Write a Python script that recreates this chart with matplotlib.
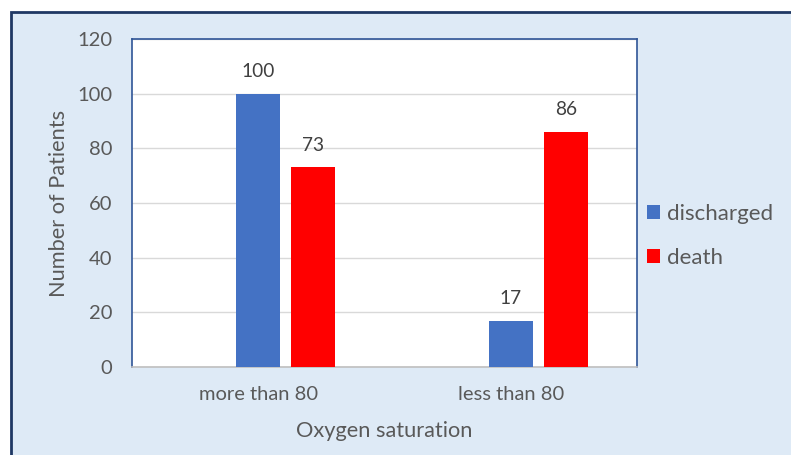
import matplotlib.pyplot as plt
from matplotlib.patches import Rectangle

categories = ["more than 80", "less than 80"]
discharged = [100, 17]
death = [73, 86]

plt.rcParams['font.family'] = ['Lato', 'DejaVu Sans']

W, H = 791, 455
fig = plt.figure(figsize=(W / 100, H / 100), dpi=100, facecolor="white")

# outer light-blue panel with dark border
fig.patches.append(Rectangle((11 / W, -0.1), 1.2, (H - 12) / H + 0.1, transform=fig.transFigure,
                             facecolor="#DEEAF6", edgecolor="#1F3864", linewidth=2, zorder=-5))

ax = fig.add_axes([132 / W, (H - 367) / H, (637 - 132) / W, (367 - 39) / H])
ax.set_zorder(2)
ax.set_facecolor("white")

x = range(len(categories))
bw = 0.175
off = 0.218
b1 = ax.bar([i for i in x], discharged, width=bw, color="#4472C4", label="discharged", zorder=3)
b2 = ax.bar([i + off for i in x], death, width=bw, color="#FF0000", label="death", zorder=3)

for bars in (b1, b2):
    for r in bars:
        ax.text(r.get_x() + r.get_width() / 2, r.get_height() + 5, f"{int(r.get_height())}",
                ha="center", va="bottom", fontsize=13.8, color="#404040")

ax.set_xlim(-0.5, 1.5)
ax.set_ylim(0, 120)
ax.set_yticks(range(0, 121, 20))
ax.set_xticks(list(x))
ax.set_xticklabels(categories)
ax.yaxis.grid(True, color="#D9D9D9", linewidth=1, zorder=0)
ax.set_axisbelow(True)
ax.tick_params(axis="both", length=0, labelsize=14.5, labelcolor="#595959")
ax.tick_params(axis="x", pad=14)
ax.tick_params(axis="y", pad=14)

for s in ("left", "top", "right"):
    ax.spines[s].set_color("#2F5597")
    ax.spines[s].set_linewidth(1.2)
ax.spines["bottom"].set_color("#BFBFBF")
ax.spines["bottom"].set_linewidth(1.2)

ax.set_ylabel("Number of Patients", fontsize=15.7, color="#595959", labelpad=6)
ax.set_xlabel("Oxygen saturation", fontsize=15.7, color="#595959", labelpad=12.5)

ax.legend(loc="center left", bbox_to_anchor=(1.0, 0.40), frameon=False, fontsize=16,
          labelcolor="#595959", handlelength=0.6, handleheight=0.6, handletextpad=0.3,
          labelspacing=1.1, borderaxespad=0.05)

fig.savefig("out.png", dpi=100, facecolor="white")
